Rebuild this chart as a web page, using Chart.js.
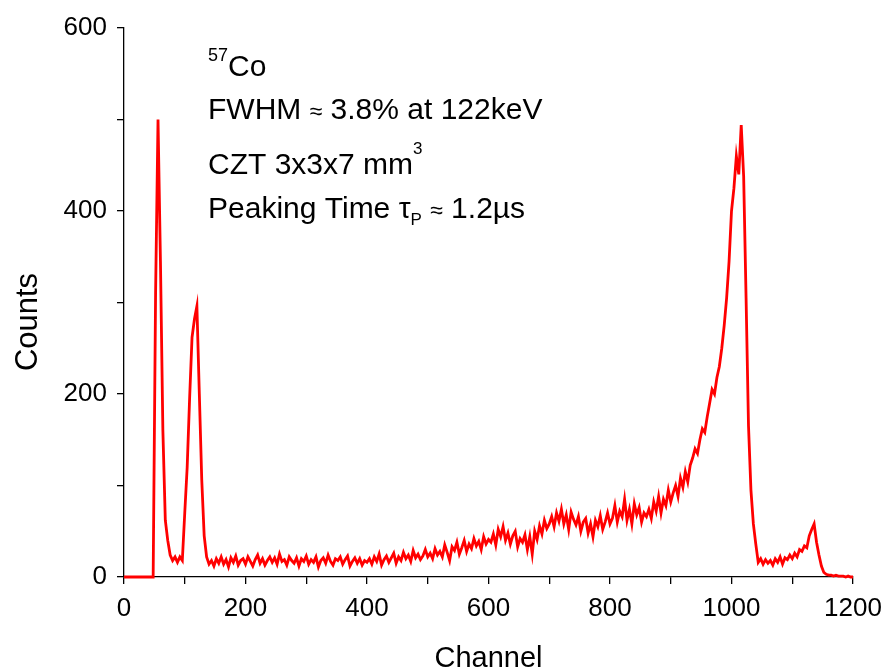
<!DOCTYPE html>
<html>
<head>
<meta charset="utf-8">
<title>57Co spectrum</title>
<script src="https://cdn.jsdelivr.net/npm/chart.js@4.4.0/dist/chart.umd.min.js"></script>
<style>
  body { margin: 0; background: #fff; }
  #wrap { width: 887px; height: 672px; }
</style>
</head>
<body>
<div id="wrap"><canvas id="spectrumChart" width="887" height="672"></canvas></div>
<script>

// channel step between two readings
var channelStep = 4;

// counts, one value every 4 channels, channel 0 .. 1200
var counts = [
  // 0 - 48
  0,0,0,0,0,0,0,0,0,0,0,0,0,
  // 52 - 140
  310,500,345,160,62,40,24,18,22,16,22,18,70,120,195,262,282,296,200,106,45,22,14,
  // 144 - 400
  18,12,20,15,22,14,19,11,21,16,
  23,13,18,20,14,22,17,12,19,24,
  15,20,13,18,22,16,21,14,25,17,
  19,13,22,18,15,21,12,20,17,23,
  14,19,16,22,11,18,21,15,24,17,
  13,20,18,22,14,19,23,12,17,21,
  15,20,13,18,16,
  // 404 - 500
  20,14,22,17,25,13,19,23,16,21,
  26,15,22,18,27,20,24,17,29,21,
  25,19,23,30,22,
  // 504 - 600
  26,20,31,24,28,22,35,27,18,33,
  29,38,25,32,40,28,36,31,42,34,
  39,30,44,36,41,
  // 604 - 660
  38,47,35,52,44,55,40,48,36,45,50,33,42,38,46,
  // 664 - 700
  30,44,25,50,41,56,47,62,53,58,
  // 704 - 760
  66,55,70,61,74,58,68,52,71,63,57,66,50,60,64,
  // 764 - 800
  48,58,44,62,55,67,52,60,70,58,
  // 804 - 860
  64,78,60,72,66,85,62,74,58,80,68,76,60,70,66,
  // 864 - 900
  74,64,82,72,88,70,85,78,95,82,
  // 904 - 940
  92,100,88,108,98,115,104,122,130,140,
  // 944 - 980
  135,150,162,158,175,190,205,200,218,230,
  // 984 - 1020 (122 keV photopeak)
  250,275,305,345,400,425,460,440,494,438,
  // 1024 - 1060
  305,165,95,58,36,16,20,14,19,15,
  // 1064 - 1100
  18,13,20,16,22,14,21,19,24,20,
  // 1104 - 1140 (136 keV)
  26,22,30,28,34,32,45,52,58,38,
  // 1144 - 1200
  24,12,5,3,2,2,1,2,1,1,1,0,1,0,0
];

var xTickLabels = [0, 200, 400, 600, 800, 1000, 1200];
var yTickLabels = [0, 200, 400, 600];
var xTitle = 'Channel';
var yTitle = 'Counts';

var fontFamily = '"Liberation Sans", Arial, sans-serif';

function spectrumPoints() {
  var pts = [];
  for (var i = 0; i < counts.length; i++) {
    pts.push({ x: i * channelStep, y: counts[i] });
  }
  return pts;
}

// draws a line of text made of pieces (superscripts / subscripts)
function drawRich(ctx, x, y, parts) {
  for (var i = 0; i < parts.length; i++) {
    var p = parts[i];
    ctx.font = p.size + 'px ' + fontFamily;
    ctx.fillText(p.t, x, y + (p.dy || 0));
    x += ctx.measureText(p.t).width;
  }
}

var notesPlugin = {
  id: 'notes',
  afterDraw: function(chart) {
    var ctx = chart.ctx;
    var area = chart.chartArea;
    ctx.save();
    ctx.fillStyle = '#000';
    ctx.textBaseline = 'alphabetic';
    ctx.textAlign = 'left';
    var x0 = 208;
    drawRich(ctx, x0, 76, [{ t: '57', size: 18, dy: -15 }, { t: 'Co', size: 30 }]);
    drawRich(ctx, x0, 119, [{ t: 'FWHM ', size: 30 }, { t: '\u2248', size: 23 }, { t: ' 3.8% at 122keV', size: 30 }]);
    drawRich(ctx, x0, 174, [{ t: 'CZT 3x3x7 mm', size: 30 }, { t: '3', size: 17, dy: -20 }]);
    drawRich(ctx, x0, 218, [{ t: 'Peaking Time ', size: 30 }, { t: '\u03c4', size: 30 }, { t: 'P', size: 17, dy: 7 },
                            { t: ' ', size: 30 }, { t: '\u2248', size: 23 }, { t: ' 1.2\u00b5s', size: 30 }]);

    // axis titles
    ctx.font = '29px ' + fontFamily;
    ctx.textAlign = 'center';
    ctx.fillText(xTitle, (area.left + area.right) / 2, 667);
    ctx.translate(37, 322);
    ctx.rotate(-Math.PI / 2);
    ctx.font = '31px ' + fontFamily;
    ctx.fillText(yTitle, 0, 0);
    ctx.restore();
  }
};

function tickLabel(list) {
  return function(value) {
    return list.indexOf(value) >= 0 ? value : '';
  };
}

function init() {
  var ctx = document.getElementById('spectrumChart').getContext('2d');
  var chart = new Chart(ctx, {
    type: 'line',
    data: {
      datasets: [{
        label: '57Co',
        data: spectrumPoints(),
        borderColor: '#ff0000',
        borderWidth: 2.8,
        pointRadius: 0,
        tension: 0,
        fill: false,
        clip: 4
      }]
    },
    options: {
      responsive: false,
      animation: false,
      layout: { padding: { top: 28, right: 34, left: 0, bottom: 0 } },
      plugins: {
        legend: { display: false },
        tooltip: { enabled: false }
      },
      scales: {
        x: {
          type: 'linear',
          min: 0,
          max: 1200,
          afterFit: function(axis) {
            axis.height = 95;
            axis.paddingLeft = 0;
            axis.paddingRight = 0;
          },
          ticks: {
            stepSize: 100,
            autoSkip: false,
            maxRotation: 0,
            padding: 9,
            color: '#000',
            font: { family: fontFamily, size: 26 },
            callback: tickLabel(xTickLabels)
          },
          grid: { drawOnChartArea: false, tickLength: 7, color: '#000', lineWidth: 1.3 },
          border: { display: true, color: '#000', width: 1.3 },
          title: { display: false }
        },
        y: {
          min: 0,
          max: 600,
          afterFit: function(axis) {
            axis.width = 124;
            axis.paddingTop = 0;
            axis.paddingBottom = 0;
          },
          ticks: {
            stepSize: 100,
            padding: 10,
            color: '#000',
            font: { family: fontFamily, size: 26 },
            callback: tickLabel(yTickLabels)
          },
          grid: { drawOnChartArea: false, tickLength: 7, color: '#000', lineWidth: 1.3 },
          border: { display: true, color: '#000', width: 1.3 },
          title: { display: false }
        }
      }
    },
    plugins: [notesPlugin]
  });
}

init();
</script>
</body>
</html>
